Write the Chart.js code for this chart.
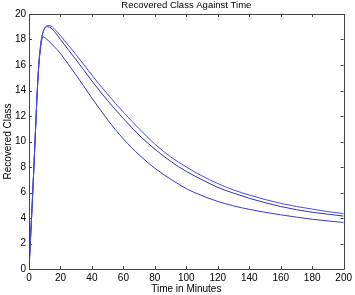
<!DOCTYPE html>
<html>
<head>
<meta charset="utf-8">
<script src="https://cdn.jsdelivr.net/npm/chart.js@4/dist/chart.umd.min.js"></script>
<style>
html,body{margin:0;padding:0;background:#fff;}
#wrap{width:355px;height:295px;position:relative;}
</style>
</head>
<body>
<div id="wrap"><canvas id="c" width="355" height="295"></canvas></div>
<script>
const times = [0,1,2,3,4,5,6,7,8,9,10,11,12,14,16,20,25,30,40,50,60,70,80,90,100,110,120,130,140,150,160,170,180,190,200];
const upperSeries = [0,2.5,5,7.7,10.5,13.3,15.6,17.1,18.1,18.6,18.9,19.05,19.1,19.05,18.85,18.3,17.55,16.8,15.2,13.7,12.3,11.0,9.8,8.8,8.0,7.3,6.7,6.2,5.8,5.45,5.15,4.9,4.7,4.5,4.35];
const middleSeries = [0,2.5,5,7.7,10.5,13.3,15.6,17.1,18.1,18.6,18.9,19.0,19.0,18.9,18.65,18.0,17.2,16.4,14.75,13.2,11.8,10.5,9.4,8.45,7.65,7.0,6.4,5.95,5.55,5.2,4.9,4.65,4.45,4.3,4.15];
const lowerSeries = [0,2.5,5,7.7,10.5,13.3,15.6,17.0,17.9,18.2,18.15,18.05,17.95,17.7,17.45,16.9,16.05,15.2,13.4,11.7,10.2,8.95,7.9,7.05,6.3,5.75,5.3,4.95,4.68,4.45,4.25,4.07,3.9,3.77,3.65];
const xTicks = [0,20,40,60,80,100,120,140,160,180,200];
const yTicks = [0,2,4,6,8,10,12,14,16,18,20];
const titleText = 'Recovered Class Against Time';
const xTitle = 'Time in Minutes';
const yTitle = 'Recovered Class';

const FONT = 'Liberation Sans, Arial, Helvetica, sans-serif';
const toPts = arr => times.map((t,i)=>({x:t,y:arr[i]}));
const mk = (arr,color) => ({data:toPts(arr),borderColor:color,borderWidth:1,pointRadius:0,fill:false,cubicInterpolationMode:'monotone'});

const boxTicks = {
  id:'boxTicks',
  afterDraw(chart){
    const {ctx, chartArea:a, scales:{x,y}} = chart;
    ctx.save();
    ctx.strokeStyle = '#444';
    ctx.lineWidth = 1;
    ctx.beginPath();
    ctx.rect(Math.round(a.left)+0.5, Math.round(a.top)+0.5, Math.round(a.right-a.left), Math.round(a.bottom-a.top));
    const L = 3;
    xTicks.forEach(v=>{
      const px = Math.round(x.getPixelForValue(v))+0.5;
      ctx.moveTo(px,a.bottom); ctx.lineTo(px,a.bottom-L);
      ctx.moveTo(px,a.top); ctx.lineTo(px,a.top+L);
    });
    yTicks.forEach(v=>{
      const py = Math.round(y.getPixelForValue(v))+0.5;
      ctx.moveTo(a.left,py); ctx.lineTo(a.left+L,py);
      ctx.moveTo(a.right,py); ctx.lineTo(a.right-L,py);
    });
    ctx.stroke();
    ctx.restore();
  }
};

new Chart(document.getElementById('c'), {
  type:'line',
  data:{datasets:[mk(upperSeries,'#4a4af0'), mk(middleSeries,'#3030c0'), mk(lowerSeries,'#3838d0')]},
  options:{
    responsive:false, animation:false, devicePixelRatio:1,
    layout:{padding:{left:0,right:9,top:0,bottom:0}},
    plugins:{
      legend:{display:false}, tooltip:{enabled:false},
      title:{display:true,text:titleText,fullSize:false,color:'#000',font:{family:FONT,size:9.5,weight:'normal',lineHeight:1.2},padding:{top:0,bottom:2.6}}
    },
    scales:{
      x:{type:'linear',min:0,max:200,
        afterFit(s){s.height=26;},
        afterBuildTicks(s){s.ticks=xTicks.map(v=>({value:v}));},
        grid:{display:false,drawTicks:false},border:{display:false},
        ticks:{color:'#000',padding:3,maxRotation:0,autoSkip:false,font:{family:FONT,size:10}},
        title:{display:true,text:xTitle,color:'#000',font:{family:FONT,size:10},padding:{top:0,bottom:0}}
      },
      y:{type:'linear',min:0,max:20,
        afterFit(s){s.width=29;},
        afterBuildTicks(s){s.ticks=yTicks.map(v=>({value:v}));},
        grid:{display:false,drawTicks:false},border:{display:false},
        ticks:{color:'#000',padding:3,autoSkip:false,font:{family:FONT,size:10}},
        title:{display:true,text:yTitle,color:'#000',font:{family:FONT,size:10},padding:{top:2,bottom:0}}
      }
    }
  },
  plugins:[boxTicks]
});
</script>
</body>
</html>
